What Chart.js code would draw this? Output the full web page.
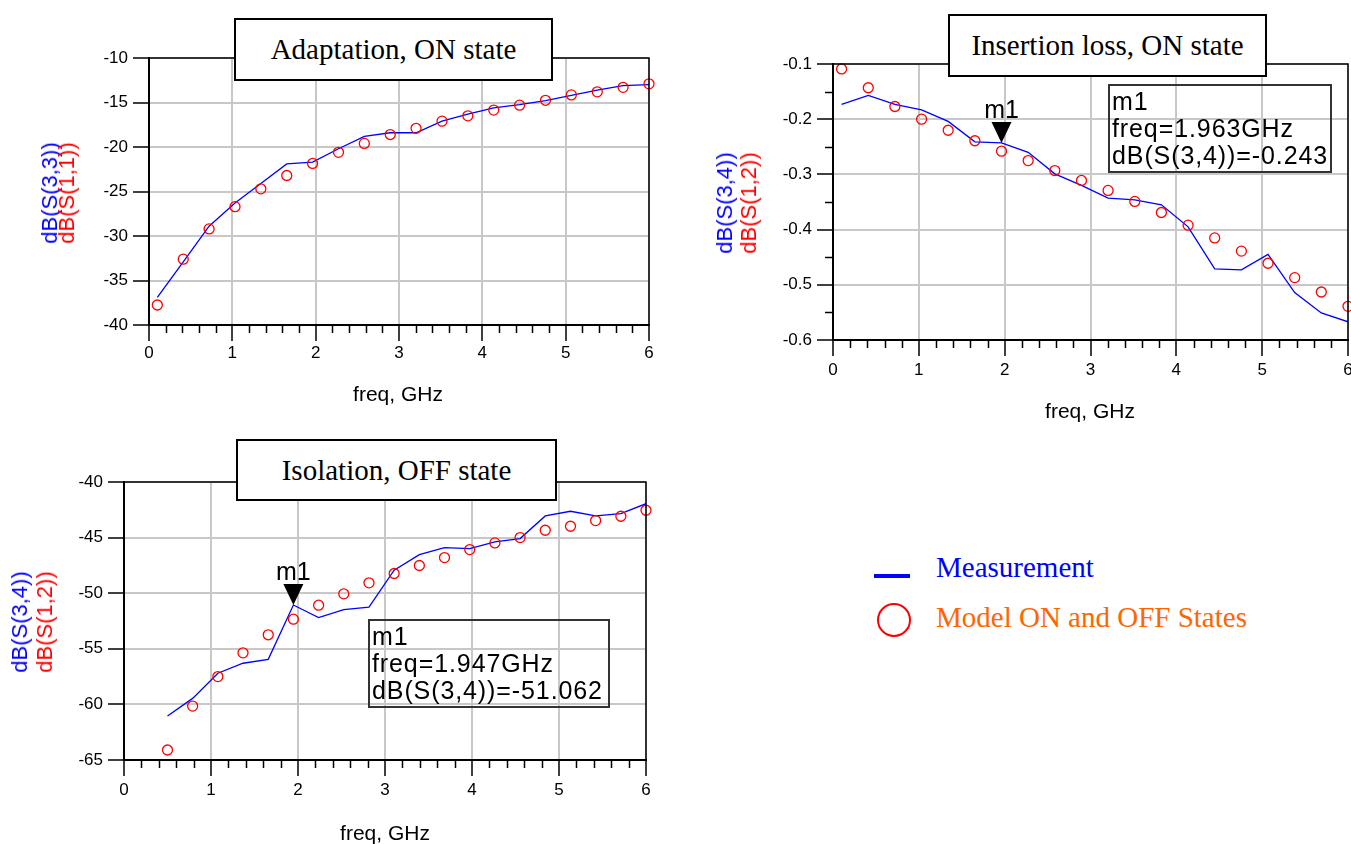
<!DOCTYPE html>
<html>
<head>
<meta charset="utf-8">
<script src="https://cdn.jsdelivr.net/npm/chart.js@4.4.1/dist/chart.umd.min.js"></script>
<style>
  html, body { margin: 0; padding: 0; background: #fff; overflow: hidden; width: 1351px; height: 844px; }
  body { position: relative; font-family: 'Liberation Sans', Arial, sans-serif; color: #000; }
  .plot { position: absolute; }
  .title {
    position: absolute; box-sizing: border-box; border: 2px solid #000; background: #fff;
    font-family: 'Liberation Serif', 'Times New Roman', serif; font-size: 29px;
    display: flex; align-items: center; justify-content: center; z-index: 2;
  }
  .info {
    position: absolute; box-sizing: border-box; border: 2px solid #333;
    font-size: 25px; letter-spacing: 0.9px; line-height: 27px; padding: 2px 2px; z-index: 2; white-space: nowrap;
  }
  .ylab { position: absolute; font-size: 22px; white-space: nowrap; z-index: 2; }
  .ylab div { text-align: center; }
  .xlab { position: absolute; font-size: 21px; line-height: 21px; transform: translate(-50%, -50%); white-space: nowrap; }
  .leg { position: absolute; font-family: 'Liberation Serif', 'Times New Roman', serif; font-size: 29px; line-height: 29px; white-space: nowrap; }
</style>
</head>
<body>

<div class="plot" style="left:0;top:0;width:670px;height:420px"><canvas id="chart-adapt"></canvas></div>
<div class="plot" style="left:680px;top:0;width:700px;height:430px"><canvas id="chart-ins"></canvas></div>
<div class="plot" style="left:0;top:430px;width:670px;height:414px"><canvas id="chart-iso"></canvas></div>

<!-- title boxes -->
<div class="title" style="left:234px;top:18px;width:319px;height:63px">Adaptation, ON state</div>
<div class="title" style="left:948px;top:14px;width:319px;height:63px">Insertion loss, ON state</div>
<div class="title" style="left:236px;top:439px;width:321px;height:62px">Isolation, OFF state</div>

<!-- marker readouts -->
<div class="info" style="left:1108px;top:84px;width:224px;height:89px">m1<br>freq=1.963GHz<br>dB(S(3,4))=-0.243</div>
<div class="info" style="left:368px;top:619px;width:242px;height:89px">m1<br>freq=1.947GHz<br>dB(S(3,4))=-51.062</div>

<!-- y axis labels -->
<div class="ylab" style="left:58px;top:193px;line-height:17px;transform:translate(-50%,-50%) rotate(-90deg)">
  <div style="color:#0000ff">dB(S(3,3))</div><div style="color:#ff0000">dB(S(1,1))</div>
</div>
<div class="ylab" style="left:737px;top:203px;line-height:24px;transform:translate(-50%,-50%) rotate(-90deg)">
  <div style="color:#0000ff">dB(S(3,4))</div><div style="color:#ff0000">dB(S(1,2))</div>
</div>
<div class="ylab" style="left:32px;top:622px;line-height:25px;transform:translate(-50%,-50%) rotate(-90deg)">
  <div style="color:#0000ff">dB(S(3,4))</div><div style="color:#ff0000">dB(S(1,2))</div>
</div>

<!-- x axis labels -->
<div class="xlab" style="left:398px;top:393px">freq, GHz</div>
<div class="xlab" style="left:1090px;top:410px">freq, GHz</div>
<div class="xlab" style="left:385px;top:832px">freq, GHz</div>

<!-- legend -->
<div style="position:absolute;left:874px;top:574px;width:36px;height:4px;background:#0000ff"></div>
<div class="leg" style="left:936px;top:553px;color:#0000ff">Measurement</div>
<div style="position:absolute;left:877px;top:603px;width:34px;height:34px;box-sizing:border-box;border:2px solid #ff0000;border-radius:50%"></div>
<div class="leg" style="left:936px;top:603px;color:#ff6600">Model ON and OFF States</div>

<script>
/* S-parameter comparison: measurement vs model */

Chart.defaults.font.family = "'Liberation Sans', Arial, sans-serif";
Chart.defaults.color = '#000';

// frequency sweep, ON state (GHz)
const FREQ_ON = [0.1, 0.411, 0.721, 1.032, 1.342, 1.653, 1.963, 2.274, 2.584, 2.895,
                 3.205, 3.516, 3.826, 4.137, 4.447, 4.758, 5.068, 5.379, 5.689, 6.0];
// frequency sweep, OFF state (GHz)
const FREQ_OFF = [0.5, 0.789, 1.079, 1.368, 1.658, 1.947, 2.237, 2.526, 2.816, 3.105,
                  3.395, 3.684, 3.974, 4.263, 4.553, 4.842, 5.132, 5.421, 5.711, 6.0];

// Adaptation, ON state
const S33_MEAS  = [-36.9, -32.9, -28.9, -26.3, -24.1, -21.9, -21.7, -20.2, -18.8, -18.4,
                   -18.4, -17.1, -16.3, -15.6, -15.25, -14.8, -14.2, -13.6, -13.1, -13.0];
const S11_MODEL = [-37.75, -32.6, -29.2, -26.7, -24.7, -23.2, -21.85, -20.6, -19.6, -18.6,
                   -17.9, -17.1, -16.5, -15.85, -15.3, -14.75, -14.15, -13.8, -13.3, -12.9];

// Insertion loss, ON state
const S34_MEAS  = [-0.173, -0.157, -0.173, -0.183, -0.204, -0.241, -0.243, -0.26, -0.299, -0.32,
                   -0.343, -0.346, -0.355, -0.395, -0.471, -0.473, -0.445, -0.514, -0.551, -0.567];
const S12_MODEL = [-0.109, -0.143, -0.177, -0.2, -0.22, -0.239, -0.258, -0.275, -0.293, -0.311,
                   -0.329, -0.349, -0.369, -0.392, -0.415, -0.439, -0.461, -0.487, -0.513, -0.539];

// Isolation, OFF state
const ISO_MEAS  = [-61.05, -59.46, -57.2, -56.3, -55.95, -51.062, -52.19, -51.47, -51.26, -47.93,
                   -46.53, -45.9, -45.99, -45.39, -45.09, -43.05, -42.63, -43.05, -42.84, -41.95];
const ISO_MODEL = [-64.1, -60.15, -57.5, -55.36, -53.74, -52.34, -51.08, -50.06, -49.07, -48.23,
                   -47.51, -46.8, -46.08, -45.48, -45.0, -44.34, -43.98, -43.47, -43.08, -42.54];

// m1 markers
const M1_INS = { freq: 1.963, val: -0.243 };
const M1_ISO = { freq: 1.947, val: -51.062 };

const pts = (xs, ys) => xs.map((x, i) => ({ x, y: ys[i] }));

/* ── frame, minor ticks and m1 marker ── */
const framePlugin = {
  id: 'frame',
  afterDatasetsDraw(chart, args, opts) {
    const { ctx, chartArea: a, scales: { x, y } } = chart;
    ctx.save();
    ctx.strokeStyle = '#000';
    ctx.lineWidth = 1.5;
    ctx.strokeRect(a.left, a.top, a.right - a.left, a.bottom - a.top);

    const isMajor = (v, min, step) => {
      const k = (v - min) / step;
      return Math.abs(k - Math.round(k)) < 1e-6;
    };
    ctx.beginPath();
    for (let k = 1; x.min + k * opts.minorX < x.max - 1e-9; k++) {
      const v = x.min + k * opts.minorX;
      if (isMajor(v, x.min, opts.majorX)) continue;
      const px = Math.round(x.getPixelForValue(v)) + 0.5;
      ctx.moveTo(px, a.bottom);
      ctx.lineTo(px, a.bottom + 8);
    }
    if (opts.minorY) {
      for (let k = 1; y.min + k * opts.minorY < y.max - 1e-9; k++) {
        const v = y.min + k * opts.minorY;
        if (isMajor(v, y.min, opts.majorY)) continue;
        const py = Math.round(y.getPixelForValue(v)) + 0.5;
        ctx.moveTo(a.left, py);
        ctx.lineTo(a.left - 8, py);
      }
    }
    ctx.stroke();

    if (opts.marker) {
      const px = x.getPixelForValue(opts.marker.freq);
      const py = y.getPixelForValue(opts.marker.val);
      ctx.fillStyle = '#000';
      ctx.beginPath();
      ctx.moveTo(px, py);
      ctx.lineTo(px - 10, py - 21);
      ctx.lineTo(px + 10, py - 21);
      ctx.closePath();
      ctx.fill();
      ctx.font = "25px 'Liberation Sans', Arial, sans-serif";
      ctx.textAlign = 'center';
      ctx.textBaseline = 'alphabetic';
      ctx.fillText('m1', px, py - 25);
    }
    ctx.restore();
  },
};

function makeChart(id, o) {
  return new Chart(document.getElementById(id), {
    type: 'scatter',
    data: {
      datasets: [
        {
          label: 'Model',
          data: pts(o.freq, o.model),
          showLine: false,
          pointStyle: 'circle',
          pointRadius: 5,
          pointBorderWidth: 1.3,
          borderColor: '#ff0000',
          backgroundColor: 'rgba(0,0,0,0)',
          clip: false,
        },
        {
          label: 'Measurement',
          data: pts(o.freq, o.meas),
          showLine: true,
          pointRadius: 0,
          borderColor: '#0000ff',
          borderWidth: 1.3,
          tension: 0,
        },
      ],
    },
    options: {
      responsive: true,
      maintainAspectRatio: false,
      animation: false,
      layout: { padding: o.pad },
      plugins: {
        legend: { display: false },
        tooltip: { enabled: false },
        frame: { minorX: 0.2, majorX: 1, minorY: o.minorY, majorY: o.yStep, marker: o.marker },
      },
      scales: {
        x: {
          type: 'linear',
          min: 0,
          max: 6,
          afterFit: s => { s.height = o.xH; },
          ticks: { stepSize: 1, padding: o.xPad, maxRotation: 0, autoSkip: false, font: { size: 17 } },
          grid: { color: '#c8c8c8', lineWidth: 2, tickColor: '#000', tickLength: 16, tickWidth: 1.5 },
          border: { color: '#000', width: 2 },
        },
        y: {
          type: 'linear',
          min: o.yMin,
          max: o.yMax,
          afterFit: s => { s.width = o.yW; },
          ticks: { stepSize: o.yStep, padding: 5, font: { size: 17 }, callback: o.fmt },
          grid: { color: '#c8c8c8', lineWidth: 2, tickColor: '#000', tickLength: 16, tickWidth: 1.5 },
          border: { color: '#000', width: 2 },
        },
      },
    },
    plugins: [framePlugin],
  });
}

makeChart('chart-adapt', {
  freq: FREQ_ON, meas: S33_MEAS, model: S11_MODEL,
  yMin: -40, yMax: -10, yStep: 5, minorY: null, fmt: v => v,
  pad: { left: 101, right: 21, top: 58, bottom: 0 }, yW: 48, xH: 95, xPad: 2,
});

makeChart('chart-ins', {
  freq: FREQ_ON, meas: S34_MEAS, model: S12_MODEL,
  yMin: -0.6, yMax: -0.1, yStep: 0.1, minorY: 0.05, fmt: v => v.toFixed(1),
  marker: M1_INS,
  pad: { left: 103, right: 32, top: 64, bottom: 0 }, yW: 50, xH: 90, xPad: 4,
});

makeChart('chart-iso', {
  freq: FREQ_OFF, meas: ISO_MEAS, model: ISO_MODEL,
  yMin: -65, yMax: -40, yStep: 5, minorY: null, fmt: v => v,
  marker: M1_ISO,
  pad: { left: 74, right: 24, top: 52, bottom: 0 }, yW: 50, xH: 84, xPad: 4,
});
</script>
</body>
</html>
